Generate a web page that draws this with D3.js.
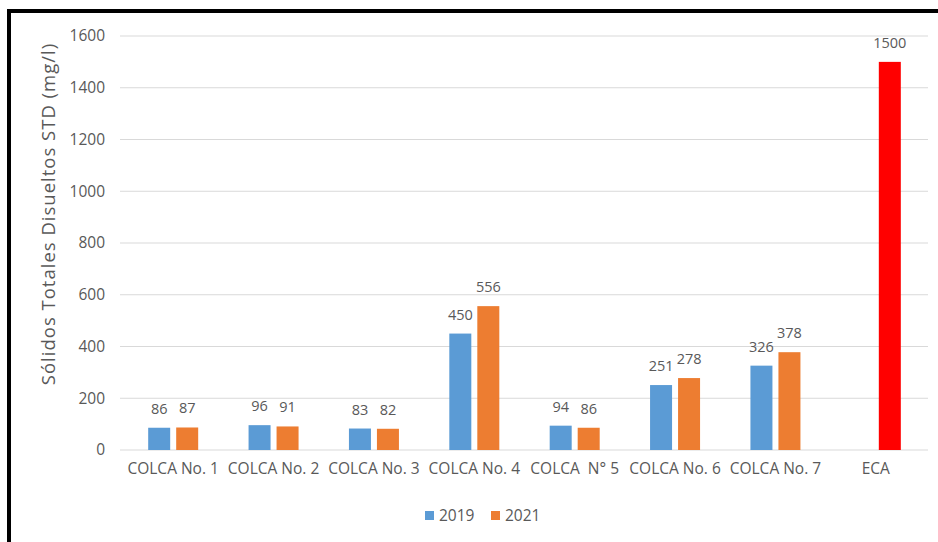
<!DOCTYPE html>
<html>
<head>
<meta charset="utf-8">
<script src="https://cdn.jsdelivr.net/npm/d3@7"></script>
<style>
  html, body { margin: 0; padding: 0; background: #fff; }
  svg { display: block; }
  text { font-family: "Open Sans", "Noto Sans", sans-serif; fill: #595959; }
</style>
</head>
<body>
<svg id="chart" width="938" height="542"></svg>
<script>
// Sampling points along the Colca river and the ECA reference standard
const categories = ["COLCA No. 1", "COLCA No. 2", "COLCA No. 3", "COLCA No. 4",
                    "COLCA  N° 5", "COLCA No. 6", "COLCA No. 7", "ECA"];
const seriesNames = ["2019", "2021"];
const values2019 = [86, 96, 83, 450, 94, 251, 326, null];
const values2021 = [87, 91, 82, 556, 86, 278, 378, 1500];
const yTicks = [0, 200, 400, 600, 800, 1000, 1200, 1400, 1600];
const yTitle = "Sólidos Totales Disueltos STD (mg/l)";

const colors = { "2019": "#5b9bd5", "2021": "#ed7d31" };
const ecaColor = "#ff0000";

const svg = d3.select("#chart");

// Outer frame (top and left edges)
svg.append("line").attr("x1", 7).attr("x2", 938).attr("y1", 11).attr("y2", 11)
  .attr("stroke", "#000").attr("stroke-width", 4);
svg.append("line").attr("x1", 9).attr("x2", 9).attr("y1", 9).attr("y2", 542)
  .attr("stroke", "#000").attr("stroke-width", 4);

const x0 = d3.scaleBand().domain(categories).range([123, 926]).padding(0);
const x1 = d3.scaleBand().domain(seriesNames).range([-25, 25]).paddingInner(0.2143);
const y = d3.scaleLinear().domain([0, 1600]).range([450, 36]);

// Gridlines
svg.append("g").selectAll("line").data(yTicks).join("line")
  .attr("x1", 120).attr("x2", 928)
  .attr("y1", d => y(d)).attr("y2", d => y(d))
  .attr("stroke", "#d9d9d9").attr("stroke-width", 1);

// Y axis labels
const yAxis = d3.axisLeft(y).tickValues(yTicks).tickSize(0).tickPadding(0)
  .tickFormat(d3.format("d"));
const yg = svg.append("g").attr("transform", "translate(105,0)").call(yAxis);
yg.select(".domain").remove();
yg.selectAll("text").attr("font-size", 15.5).attr("fill", "#595959")
  .attr("font-family", "'Open Sans', sans-serif");

// Y axis title
svg.append("text")
  .attr("transform", `translate(55,${(30 + 398) / 2}) rotate(-90)`)
  .attr("text-anchor", "middle")
  .attr("font-size", 18.5)
  .attr("letter-spacing", 1)
  .text(yTitle);

// X axis labels
const xAxis = d3.axisBottom(x0).tickSize(0).tickPadding(0);
const xg = svg.append("g").attr("transform", "translate(0,460)").call(xAxis);
xg.select(".domain").remove();
xg.selectAll("text").attr("font-size", 15.5).attr("fill", "#595959")
  .attr("font-family", "'Open Sans', sans-serif")
  .attr("y", 14).attr("dy", 0)
  .style("white-space", "pre");

// Bars
const rows = categories.map((c, i) => ({
  cat: c,
  vals: [
    { s: "2019", v: values2019[i] },
    { s: "2021", v: values2021[i] }
  ].filter(d => d.v != null)
}));

const groups = svg.append("g").selectAll("g").data(rows).join("g")
  .attr("transform", d => `translate(${x0(d.cat) + x0.bandwidth() / 2},0)`);

groups.selectAll("rect").data(d => d.vals.map(v => ({ ...v, cat: d.cat }))).join("rect")
  .attr("x", d => x1(d.s))
  .attr("width", x1.bandwidth())
  .attr("y", d => y(d.v))
  .attr("height", d => y(0) - y(d.v))
  .attr("fill", d => d.cat === "ECA" ? ecaColor : colors[d.s]);

groups.selectAll("text.val").data(d => d.vals).join("text")
  .attr("class", "val")
  .attr("x", d => x1(d.s) + x1.bandwidth() / 2)
  .attr("y", d => y(d.v) - 14)
  .attr("text-anchor", "middle")
  .attr("font-size", 14.5)
  .attr("fill", "#404040")
  .text(d => d.v);

// Legend
const legend = svg.append("g").attr("transform", "translate(425,511)");
seriesNames.forEach((s, i) => {
  const g = legend.append("g").attr("transform", `translate(${i * 66},0)`);
  g.append("rect").attr("width", 9).attr("height", 9).attr("fill", colors[s]);
  g.append("text").attr("x", 14).attr("y", 10).attr("font-size", 15.5).text(s);
});
</script>
</body>
</html>
